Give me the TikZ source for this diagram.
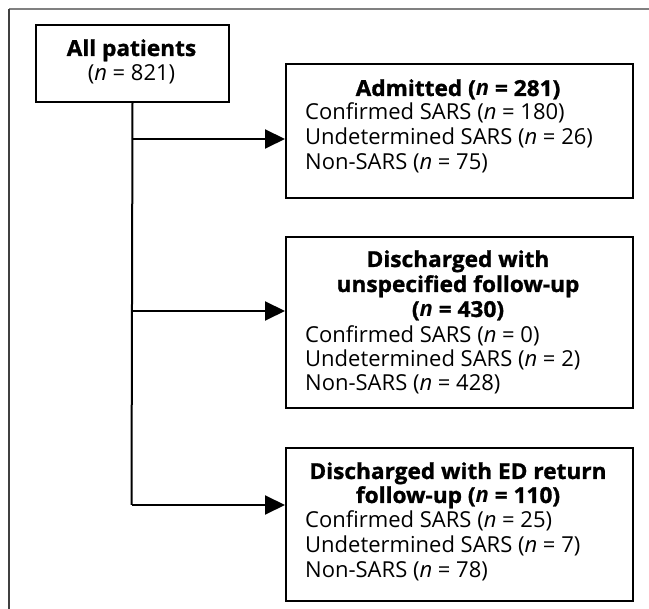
\documentclass[tikz,border=0pt]{standalone}
\usepackage{fontspec}
\setmainfont{Open Sans}[BoldFeatures={FakeBold=1.2,FakeStretch=1.03}]
\usetikzlibrary{arrows.meta}
\begin{document}
\begin{tikzpicture}[x=1pt,y=-1pt,
  box/.style={draw=black, line width=2pt, anchor=north west, inner sep=0pt},
  txt/.style={anchor=base, inner sep=0pt, font=\fontsize{22}{25}\selectfont},
  ltxt/.style={anchor=base west, inner sep=0pt, font=\fontsize{22}{25}\selectfont},
  conn/.style={line width=2pt},
  arr/.style={line width=2pt, -{Triangle[length=20pt,width=19pt]}}]
\useasboundingbox (0,0) rectangle (649,609);
% outer frame
\draw[line width=1.5pt, gray] (9,9) -- (649,9);
\draw[line width=1.5pt, black!75] (9,9) -- (9,609);
% boxes
\node[box, minimum width=193, minimum height=77] (all) at (35,24) {};
\node[box, minimum width=347, minimum height=134] (adm) at (285,63) {};
\node[box, minimum width=347, minimum height=171] (dun) at (285,236) {};
\node[box, minimum width=347, minimum height=153] (ded) at (285,447) {};
% texts
\node[txt] (t0a) at (131.5,56) {\bfseries All patients};
\node[txt] (t0b) at (131.5,81) {(\textit{n} = 821)};
\node[txt] (t1a) at (458,96) {\bfseries Admitted (\textit{n} = 281)};
\node[ltxt] (t1b) at (305,120) {Confirmed SARS (\textit{n} = 180)};
\node[ltxt] (t1c) at (305,145) {Undetermined SARS (\textit{n} = 26)};
\node[ltxt] (t1d) at (305,170) {Non-SARS (\textit{n} = 75)};
\node[txt] (t2a) at (458,267) {\bfseries Discharged with};
\node[txt] (t2b) at (458,292) {\bfseries unspecified follow-up};
\node[txt] (t2c) at (458,317) {\bfseries (\textit{n} = 430)};
\node[ltxt] (t2d) at (305,343) {Confirmed SARS (\textit{n} = 0)};
\node[ltxt] (t2e) at (305,367) {Undetermined SARS (\textit{n} = 2)};
\node[ltxt] (t2f) at (305,391) {Non-SARS (\textit{n} = 428)};
\node[txt] (t3a) at (458,479) {\bfseries Discharged with ED return};
\node[txt] (t3b) at (458,503) {\bfseries follow-up (\textit{n} = 110)};
\node[ltxt] (t3c) at (305,528) {Confirmed SARS (\textit{n} = 25)};
\node[ltxt] (t3d) at (305,553) {Undetermined SARS (\textit{n} = 7)};
\node[ltxt] (t3e) at (305,578) {Non-SARS (\textit{n} = 78)};
% connectors
\coordinate (j1) at (131.5,139);
\coordinate (j2) at (131.5,311);
\coordinate (j3) at (131.5,505);
\draw[conn] (all.south) -- (j3);
\draw[arr] (j1) -- (adm.west |- j1);
\draw[arr] (j2) -- (dun.west |- j2);
\draw[arr] (j3) -- (ded.west |- j3);
\end{tikzpicture}
\end{document}
